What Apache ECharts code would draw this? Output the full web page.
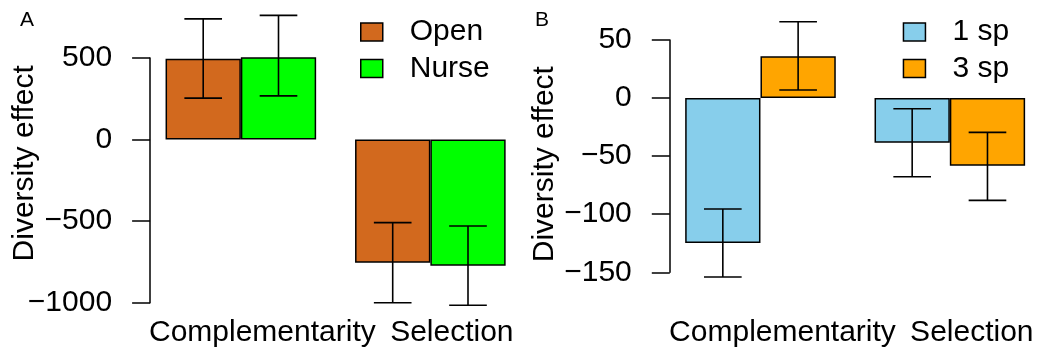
<!DOCTYPE html>
<html><head><meta charset="utf-8">
<script src="https://cdn.jsdelivr.net/npm/echarts@6/dist/echarts.min.js"></script>
<style>html,body{margin:0;padding:0;background:#fff}#c{width:1039px;height:356px}</style>
</head><body><div id="c"></div>
<script>
// ---- data ----
const categories = ['Complementarity', 'Selection'];
// Panel A
const seriesA = ['Open', 'Nurse'];
const openMean = [495, -755];
const openLow = [254, -1000];
const openHigh = [740, -509];
const nurseMean = [513, -773];
const nurseLow = [268, -1016];
const nurseHigh = [761, -530];
const ticksA = [-1000, -500, 0, 500];
// Panel B
const seriesB = ['1 sp', '3 sp'];
const sp1Mean = [-124.8, -38.4];
const sp1Low = [-154, -67.7];
const sp1High = [-95.5, -9.2];
const sp3Mean = [36.1, -58.2];
const sp3Low = [6.9, -88.1];
const sp3High = [65.7, -29.5];
const ticksB = [-150, -100, -50, 0, 50];

const colA = ['#D2691E', '#00FF00'];
const colB = ['#87CEEB', '#FFA500'];
const FONT = '"Liberation Sans", Arial, Helvetica, sans-serif';
const FS = 30;
const BW = 75.3;

function errSeries(idx, low, high, side) {
  return {
    type: 'custom', xAxisIndex: idx, yAxisIndex: idx, z: 10, clip: false,
    silent: true,
    data: low.map((l, i) => [i, l, high[i]]),
    renderItem: function (params, api) {
      const lo = api.coord([api.value(0), api.value(1)]);
      const hi = api.coord([api.value(0), api.value(2)]);
      const x = lo[0] + side * BW / 2;
      const hw = BW / 4;
      const st = { stroke: '#000', lineWidth: 1.6 };
      return { type: 'group', children: [
        { type: 'line', shape: { x1: x, y1: lo[1], x2: x, y2: hi[1] }, style: st },
        { type: 'line', shape: { x1: x - hw, y1: lo[1], x2: x + hw, y2: lo[1] }, style: st },
        { type: 'line', shape: { x1: x - hw, y1: hi[1], x2: x + hw, y2: hi[1] }, style: st }
      ]};
    }
  };
}

function barSeries(idx, name, data, color) {
  return {
    type: 'bar', name: name, xAxisIndex: idx, yAxisIndex: idx,
    data: data, barWidth: BW, barGap: '0%',
    itemStyle: { color: color, borderColor: '#000', borderWidth: 1.5 },
    emphasis: { disabled: true }
  };
}

function yAxisCfg(idx, ticks, interval, namePad) {
  return {
    type: 'value', gridIndex: idx, min: ticks[0], max: ticks[ticks.length - 1],
    interval: interval, offset: -4,
    name: 'Diversity effect', nameLocation: 'middle', nameGap: 110, nameRotate: 90,
    nameMoveOverlap: false,
    nameTextStyle: { fontFamily: FONT, fontSize: FS, color: '#000', padding: namePad },
    axisLine: { show: true, lineStyle: { color: '#000', width: 1.5 } },
    axisTick: { show: true, length: 18, lineStyle: { color: '#000', width: 1.5 } },
    axisLabel: { fontFamily: FONT, fontSize: FS, color: '#000', margin: 38,
      formatter: v => String(v).replace('-', '\u2212') },
    splitLine: { show: false }
  };
}

function xAxisCfg(idx, margin, pad) {
  return {
    type: 'category', gridIndex: idx, data: categories,
    axisLine: { show: false }, axisTick: { show: false },
    axisLabel: { fontFamily: FONT, fontSize: FS, color: '#000', margin: margin,
      padding: [0, 0, 0, pad], interval: 0 }
  };
}

function legendCfg(names, left) {
  return {
    data: names, orient: 'vertical', left: left, top: 17, padding: 0,
    itemWidth: 22, itemHeight: 18, itemGap: 6.5,
    icon: 'rect', selectedMode: false,
    itemStyle: { borderColor: '#000', borderWidth: 1.5 },
    textStyle: { fontFamily: FONT, fontSize: FS, color: '#000', lineHeight: 30,
      padding: [0, 0, 0, 22] }
  };
}

const chart = echarts.init(document.getElementById('c'), null, { renderer: 'canvas' });
chart.setOption({
  animation: false,
  backgroundColor: '#fff',
  title: [
    { text: 'A', left: 20, top: 10, padding: 0, textStyle: { fontFamily: FONT, fontSize: 21, fontWeight: 'normal', color: '#000' } },
    { text: 'B', left: 535, top: 10, padding: 0, textStyle: { fontFamily: FONT, fontSize: 21, fontWeight: 'normal', color: '#000' } }
  ],
  legend: [legendCfg(seriesA, 360), legendCfg(seriesB, 902.7)],
  grid: [
    { left: 146.1, width: 379, top: 58, height: 244.7, containLabel: false, outerBoundsMode: 'none' },
    { left: 665.8, width: 378.7, top: 40, height: 232.3, containLabel: false, outerBoundsMode: 'none' }
  ],
  xAxis: [xAxisCfg(0, 15, 43), xAxisCfg(1, 45, 44)],
  yAxis: [yAxisCfg(0, ticksA, 500, [0, 0, 0, 34]), yAxisCfg(1, ticksB, 50, [0, 16, 0, 0])],
  series: [
    barSeries(0, seriesA[0], openMean, colA[0]),
    barSeries(0, seriesA[1], nurseMean, colA[1]),
    errSeries(0, openLow, openHigh, -1),
    errSeries(0, nurseLow, nurseHigh, 1),
    barSeries(1, seriesB[0], sp1Mean, colB[0]),
    barSeries(1, seriesB[1], sp3Mean, colB[1]),
    errSeries(1, sp1Low, sp1High, -1),
    errSeries(1, sp3Low, sp3High, 1)
  ]
});
</script></body></html>
